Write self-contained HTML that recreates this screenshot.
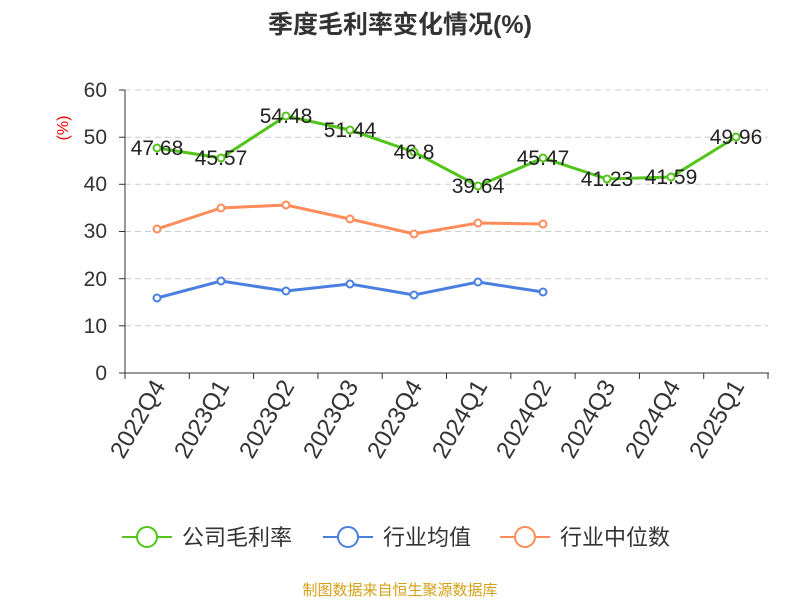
<!DOCTYPE html>
<html><head><meta charset="utf-8"><style>
body{margin:0;background:#fff;}
svg text{font-family:"Liberation Sans","Noto Sans CJK SC",sans-serif;}
</style></head><body>
<svg width="800" height="600" xmlns="http://www.w3.org/2000/svg">
<text x="400" y="33" text-anchor="middle" font-size="25" font-weight="bold" fill="#333">季度毛利率变化情况(%)</text>
<text x="68" y="128" text-anchor="middle" font-size="16" fill="#e00" transform="rotate(-90 68 128)">(%)</text>
<g stroke="#ccc" stroke-dasharray="6,4" stroke-width="1">
<line x1="125" x2="768" y1="90" y2="90"/><line x1="125" x2="768" y1="137.2" y2="137.2"/>
<line x1="125" x2="768" y1="184.3" y2="184.3"/><line x1="125" x2="768" y1="231.5" y2="231.5"/>
<line x1="125" x2="768" y1="278.7" y2="278.7"/><line x1="125" x2="768" y1="325.8" y2="325.8"/>
</g>
<g stroke="#333" stroke-width="1">
<line x1="125" x2="125" y1="90" y2="373"/><line x1="125" x2="769" y1="373" y2="373"/>
<line x1="119" x2="125" y1="90" y2="90"/><line x1="119" x2="125" y1="137.2" y2="137.2"/><line x1="119" x2="125" y1="184.3" y2="184.3"/><line x1="119" x2="125" y1="231.5" y2="231.5"/><line x1="119" x2="125" y1="278.7" y2="278.7"/><line x1="119" x2="125" y1="325.8" y2="325.8"/><line x1="119" x2="125" y1="373" y2="373"/>
<line x1="125" x2="125" y1="373" y2="379"/><line x1="189.3" x2="189.3" y1="373" y2="379"/><line x1="253.6" x2="253.6" y1="373" y2="379"/><line x1="317.9" x2="317.9" y1="373" y2="379"/><line x1="382.2" x2="382.2" y1="373" y2="379"/><line x1="446.5" x2="446.5" y1="373" y2="379"/><line x1="510.8" x2="510.8" y1="373" y2="379"/><line x1="575.1" x2="575.1" y1="373" y2="379"/><line x1="639.4" x2="639.4" y1="373" y2="379"/><line x1="703.7" x2="703.7" y1="373" y2="379"/><line x1="768" x2="768" y1="373" y2="379"/>
</g>
<g font-size="21" fill="#333" text-anchor="end">
<text x="107" y="97">60</text><text x="107" y="144">50</text><text x="107" y="191">40</text><text x="107" y="238">30</text><text x="107" y="286">20</text><text x="107" y="333">10</text><text x="107" y="380">0</text>
</g>
<g font-size="24" fill="#333" text-anchor="end">
<text transform="translate(166,386) rotate(-60)">2022Q4</text>
<text transform="translate(230,386) rotate(-60)">2023Q1</text>
<text transform="translate(295,386) rotate(-60)">2023Q2</text>
<text transform="translate(359,386) rotate(-60)">2023Q3</text>
<text transform="translate(423,386) rotate(-60)">2023Q4</text>
<text transform="translate(488,386) rotate(-60)">2024Q1</text>
<text transform="translate(552,386) rotate(-60)">2024Q2</text>
<text transform="translate(616,386) rotate(-60)">2024Q3</text>
<text transform="translate(681,386) rotate(-60)">2024Q4</text>
<text transform="translate(745,386) rotate(-60)">2025Q1</text>
</g>
<g fill="#fff" stroke-width="2">
<polyline fill="none" stroke="#ff8c5a" stroke-width="3" points="157,229 221,208 286,205 350,219 414,234 478,223 543,224"/>
<g stroke="#ff8c5a"><circle cx="157" cy="229" r="3.5"/><circle cx="221" cy="208" r="3.5"/><circle cx="286" cy="205" r="3.5"/><circle cx="350" cy="219" r="3.5"/><circle cx="414" cy="234" r="3.5"/><circle cx="478" cy="223" r="3.5"/><circle cx="543" cy="224" r="3.5"/></g>
<polyline fill="none" stroke="#4a7fe0" stroke-width="3" points="157,298 221,281 286,291 350,284 414,295 478,282 543,292"/>
<g stroke="#4a7fe0"><circle cx="157" cy="298" r="3.5"/><circle cx="221" cy="281" r="3.5"/><circle cx="286" cy="291" r="3.5"/><circle cx="350" cy="284" r="3.5"/><circle cx="414" cy="295" r="3.5"/><circle cx="478" cy="282" r="3.5"/><circle cx="543" cy="292" r="3.5"/></g>
<polyline fill="none" stroke="#52c41a" stroke-width="3" points="157,148 221,158 286,116 350,130 414,152 478,186 543,158 607,179 671,177 736,137"/>
<g stroke="#52c41a"><circle cx="157" cy="148" r="3.5"/><circle cx="221" cy="158" r="3.5"/><circle cx="286" cy="116" r="3.5"/><circle cx="350" cy="130" r="3.5"/><circle cx="414" cy="152" r="3.5"/><circle cx="478" cy="186" r="3.5"/><circle cx="543" cy="158" r="3.5"/><circle cx="607" cy="179" r="3.5"/><circle cx="671" cy="177" r="3.5"/><circle cx="736" cy="137" r="3.5"/></g>
</g>
<g font-size="21" fill="#222" text-anchor="middle">
<text x="157" y="155">47.68</text><text x="221" y="165">45.57</text><text x="286" y="123">54.48</text><text x="350" y="137">51.44</text><text x="414" y="159">46.8</text><text x="478" y="193">39.64</text><text x="543" y="165">45.47</text><text x="607" y="186">41.23</text><text x="671" y="184">41.59</text><text x="736" y="144">49.96</text>
</g>
<g stroke-width="2" fill="#fff">
<line x1="122" x2="172" y1="537" y2="537" stroke="#52c41a"/><circle cx="147" cy="537" r="10" stroke="#52c41a"/>
<line x1="323" x2="373" y1="537" y2="537" stroke="#4a7fe0"/><circle cx="348" cy="537" r="10" stroke="#4a7fe0"/>
<line x1="500" x2="550" y1="537" y2="537" stroke="#ff8c5a"/><circle cx="525" cy="537" r="10" stroke="#ff8c5a"/>
</g>
<g font-size="22" fill="#333">
<text x="182" y="545">公司毛利率</text><text x="383" y="545">行业均值</text><text x="560" y="545">行业中位数</text>
</g>
<text x="400" y="595" text-anchor="middle" font-size="15" fill="#d4a017">制图数据来自恒生聚源数据库</text>
</svg>
</body></html>
